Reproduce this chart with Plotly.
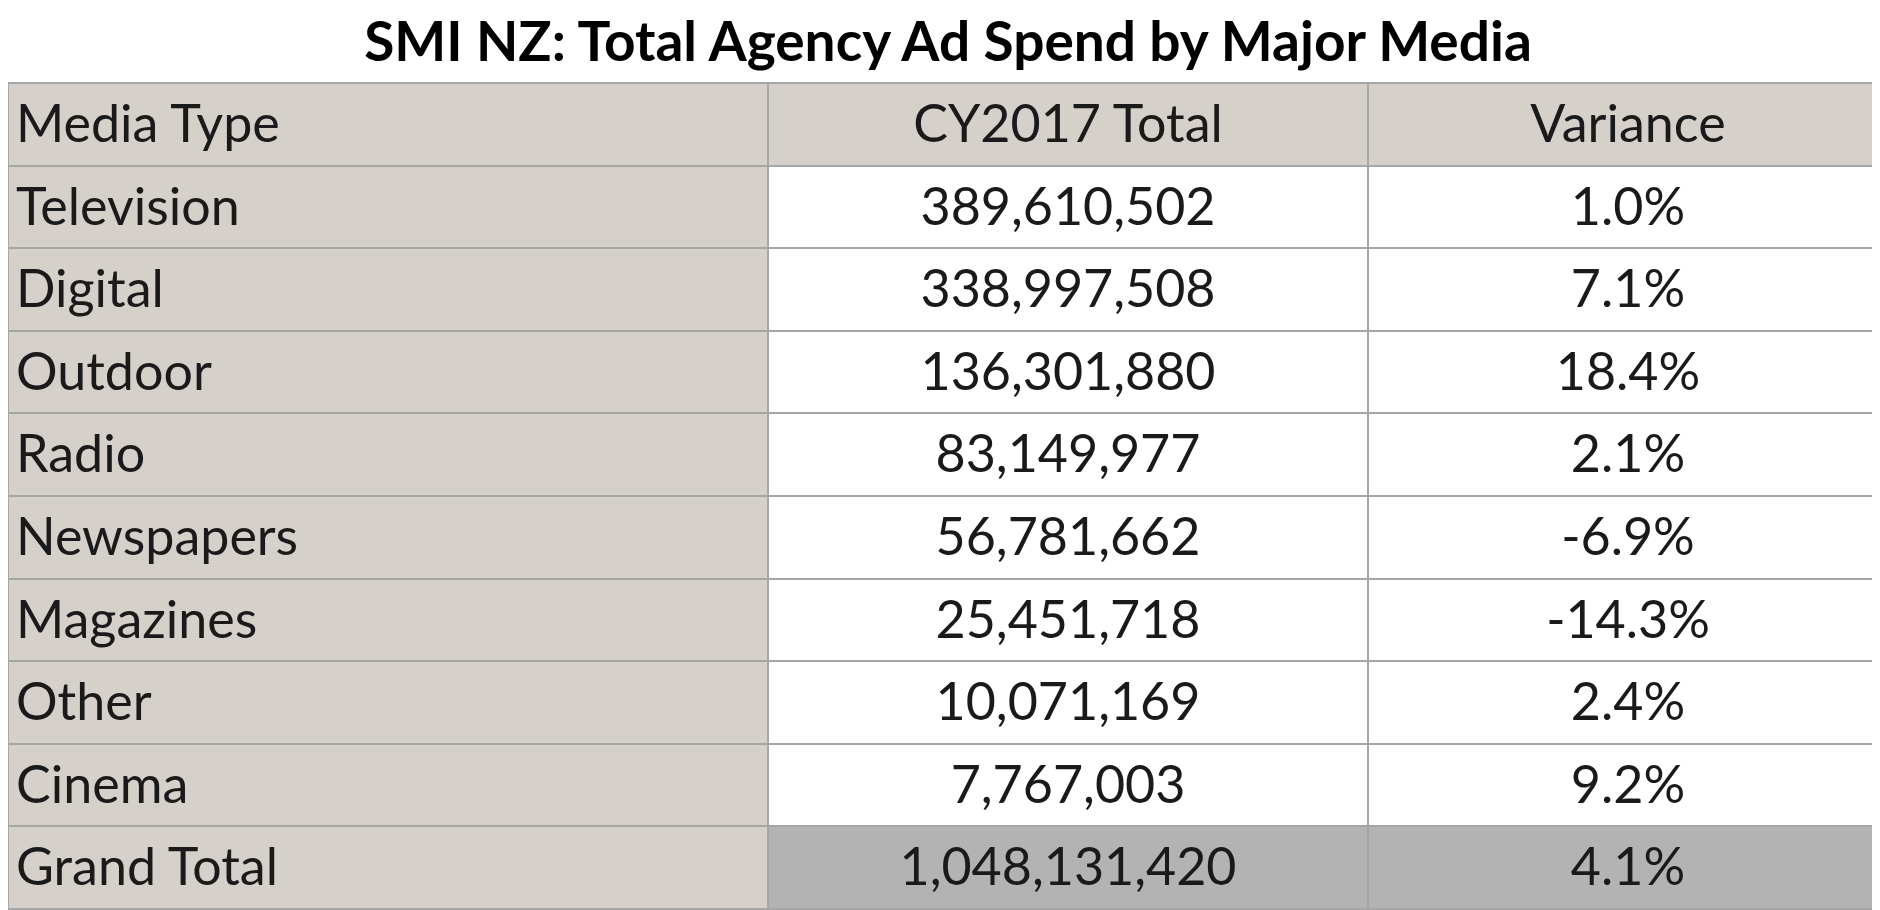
import plotly.graph_objects as go

title = "SMI NZ: Total Agency Ad Spend by Major Media"
headers = ["Media Type", "CY2017 Total", "Variance"]
media_types = ["Television", "Digital", "Outdoor", "Radio", "Newspapers",
               "Magazines", "Other", "Cinema", "Grand Total"]
cy2017_total = [389610502, 338997508, 136301880, 83149977, 56781662,
                25451718, 10071169, 7767003, 1048131420]
variance_pct = [1.0, 7.1, 18.4, 2.1, -6.9, -14.3, 2.4, 9.2, 4.1]

BEIGE = "#d5d0ca"
TOTAL_GREY = "#b3b3b3"
LINE = "#a6a6a6"
FONT = "Lato"
ROW_H = 82.6


def shifted(s):
    # push the text down a little so it sits mid-row like the spreadsheet;
    # the trailing <br> stops plotly from auto-wrapping the tag as words
    return '<span style="baseline-shift:-13px">' + s + "</span><br>"


n = len(media_types)
col1_fill = [BEIGE] * n
data_fill = ["white"] * (n - 1) + [TOTAL_GREY]

fig = go.Figure()
fig.add_trace(
    go.Table(
        domain=dict(x=[0, 1], y=[0, 0.9176]),
        columnwidth=[760, 600, 520],
        header=dict(
            values=[shifted(h) for h in headers],
            fill_color=BEIGE,
            line=dict(color=LINE, width=2),
            align=["left", "center", "center"],
            font=dict(family=FONT, size=52, color="#1a1a1a"),
            height=ROW_H,
        ),
        cells=dict(
            values=[
                [shifted(m) for m in media_types],
                [shifted(f"{v:,}") for v in cy2017_total],
                [shifted(f"{v:.1f}%") for v in variance_pct],
            ],
            fill_color=[col1_fill, data_fill, data_fill],
            line=dict(color=LINE, width=2),
            align=["left", "center", "center"],
            font=dict(family=FONT, size=52, color="#1a1a1a"),
            height=ROW_H,
        ),
    )
)

fig.update_layout(
    width=1880,
    height=910,
    margin=dict(l=0, r=0, t=0, b=0),
    paper_bgcolor="white",
    title=dict(
        text="<b>" + title + "</b>",
        x=0.5,
        xanchor="center",
        y=1 - 34 / 910,
        yanchor="middle",
        font=dict(family=FONT, size=55, color="black"),
    ),
)

fig.write_html("out.html")
